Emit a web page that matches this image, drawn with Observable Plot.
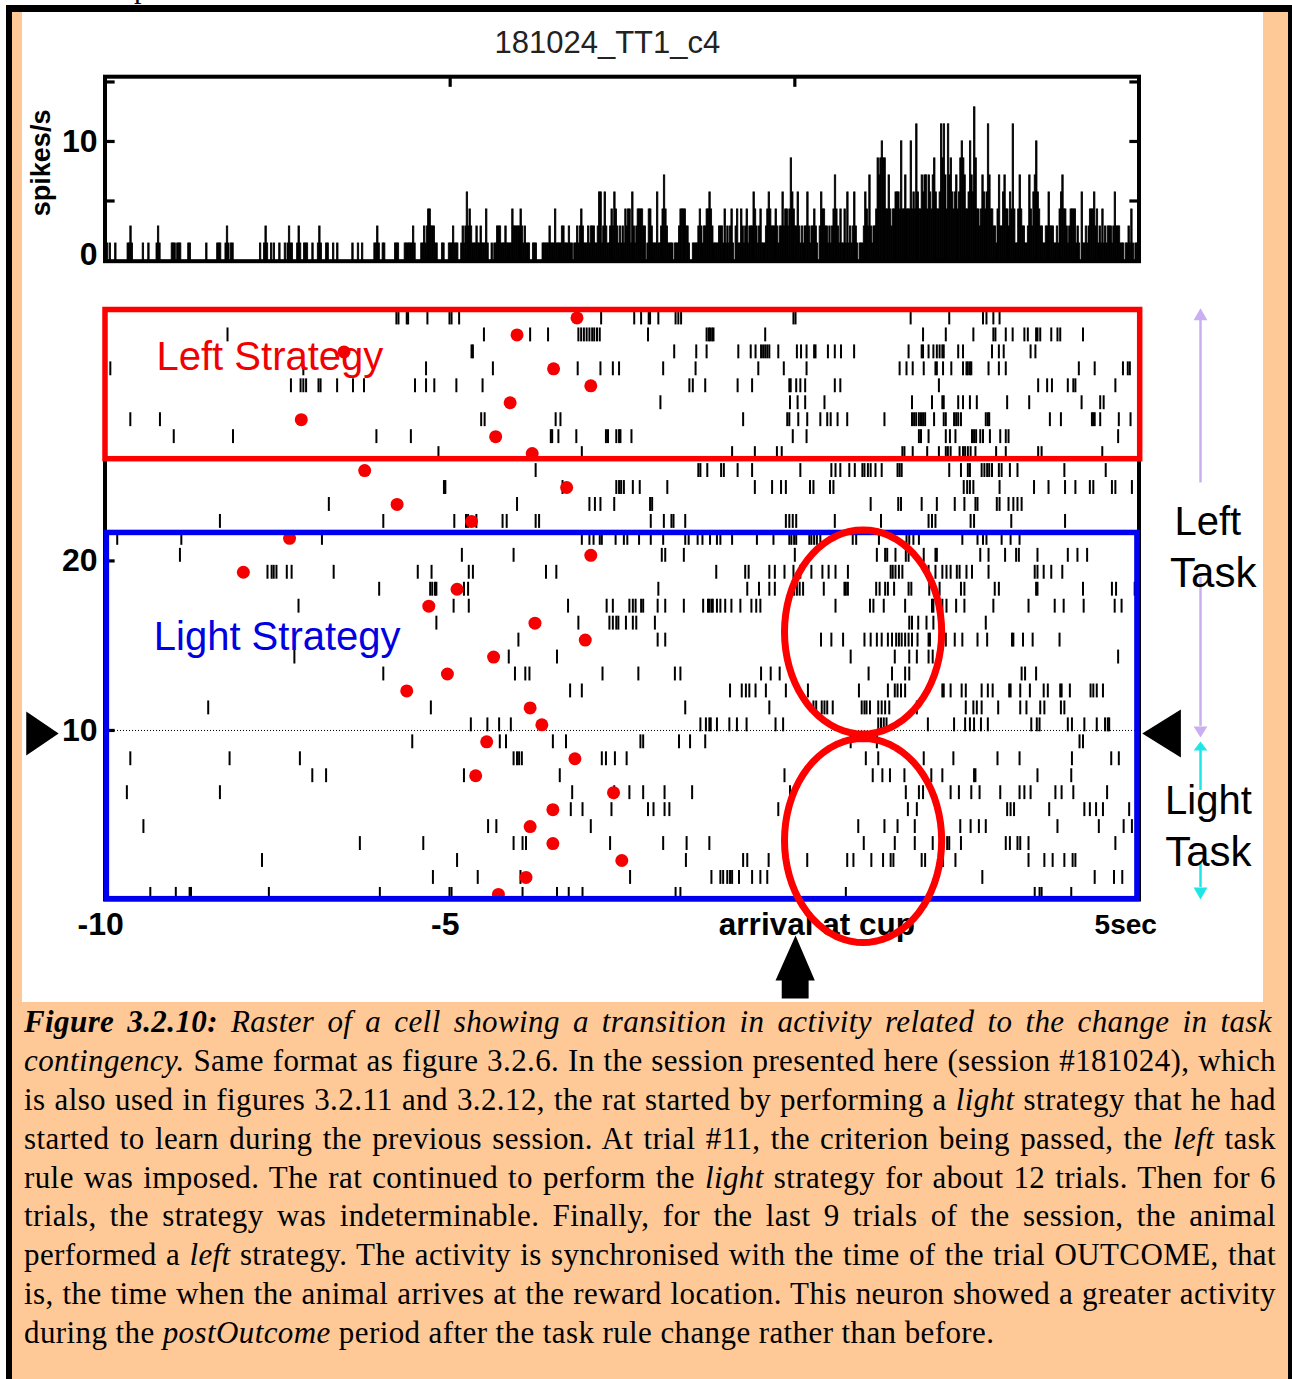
<!DOCTYPE html>
<html><head><meta charset="utf-8">
<script src="https://cdn.jsdelivr.net/npm/d3@7"></script>
<script src="https://cdn.jsdelivr.net/npm/@observablehq/plot@0.6"></script>
<style>
html,body{margin:0;padding:0;background:#fff;width:1292px;height:1379px;overflow:hidden}
#page{position:relative;width:1292px;height:1379px;overflow:hidden}
#sheet{position:absolute;left:6px;top:5px;width:1286px;height:1374px;box-sizing:border-box;background:#fec997;border-left:6px solid #000;border-top:7px solid #000;border-right:4px solid #000}
#panel{position:absolute;left:22px;top:12px;width:1241px;height:990px;background:#fff}
#panel svg{position:absolute;left:0}
#frag{position:absolute;left:134px;top:-27px;font:30px/30px "Liberation Serif";color:#000}
#caption{position:absolute;left:24px;top:1003px;width:1252px;font:31px/38.9px "Liberation Serif";letter-spacing:.4px;color:#000}
#caption div{height:38.9px;text-align:justify;text-align-last:justify}
#caption div.first{width:1248px}
#caption div.last{text-align-last:left}
</style></head><body>
<div id="page">
<div id="frag">p</div>
<div id="sheet"></div>
<div id="panel"></div>
<div id="caption"></div>
</div>
<script>
// Peri-event histogram: spike count per 20 ms bin, from -10 s to +5 s
const binWidth = 0.02, spikesPerSecPerCount = 1.43;
const counts00 = [0,1,0,1,0,0,0,1,0,0,0,0,0,0,0,0,1,1,2,1,0,0,0,0,0];
const counts01 = [0,0,1,0,0,0,1,0,0,0,0,0,1,2,1,0,0,0,0,0,0,0,0,1,1];
const counts02 = [1,0,1,1,1,0,0,0,0,0,1,1,0,0,0,0,0,0,0,0,0,0,0,1,0];
const counts03 = [0,0,0,0,0,0,1,1,1,0,0,0,1,2,1,0,1,1,0,0,0,0,0,0,0];
const counts04 = [0,0,0,0,0,0,0,0,0,0,0,0,1,0,0,1,2,1,0,0,1,0,1,0,0];
const counts05 = [0,1,0,0,0,1,0,1,2,1,1,0,0,0,1,2,1,0,0,1,1,1,0,0,0];
const counts06 = [1,0,0,0,1,2,1,0,0,0,1,1,0,0,0,1,0,0,1,0,0,0,0,0,0];
const counts07 = [0,0,0,0,1,0,0,0,1,0,0,1,0,0,0,0,0,0,0,0,1,1,2,1,0];
const counts08 = [0,1,1,0,0,0,0,0,0,0,1,1,1,0,0,0,0,1,1,1,1,1,1,2,1];
const counts09 = [0,0,0,0,1,1,2,1,2,3,3,2,2,2,1,1,0,0,0,1,1,0,0,0,1];
const counts10 = [1,1,2,1,1,1,0,0,1,2,1,2,4,2,3,2,1,1,1,2,1,1,2,1,1];
const counts11 = [1,3,1,0,0,1,0,1,1,2,2,2,1,1,1,2,1,1,1,1,3,2,2,2,2];
const counts12 = [2,3,2,1,2,1,1,1,0,0,1,1,1,0,0,0,0,1,1,1,1,1,2,1,1];
const counts13 = [1,3,1,1,1,1,2,2,1,1,1,2,1,1,0,1,1,2,1,2,3,2,1,1,1];
const counts14 = [2,1,2,2,2,1,1,2,4,4,1,2,4,2,1,1,2,3,2,4,3,2,1,2,1];
const counts15 = [2,1,3,2,3,3,1,4,2,1,2,3,3,3,3,2,2,0,1,3,3,2,1,1,1];
const counts16 = [4,1,1,2,3,5,3,2,1,1,1,1,0,1,1,1,2,3,3,3,3,2,2,1,0];
const counts17 = [0,1,1,1,1,2,3,2,1,2,2,3,3,4,3,2,1,1,1,1,2,2,2,1,3];
const counts18 = [1,2,1,2,3,1,0,2,3,1,1,3,2,1,2,3,1,2,2,2,4,3,2,1,2];
const counts19 = [3,1,1,1,2,3,4,3,2,2,2,3,2,1,2,2,4,2,3,3,2,3,6,4,3];
const counts20 = [2,2,4,2,1,2,1,2,2,4,2,1,2,2,3,2,1,0,2,4,3,3,2,2,1];
const counts21 = [2,1,2,3,5,3,2,1,3,1,1,3,1,4,1,2,1,2,4,2,1,0,1,1,1];
const counts22 = [2,4,3,2,5,2,1,2,2,3,6,5,6,7,6,6,3,3,5,3,2,3,3,4,4];
const counts23 = [4,3,7,3,3,5,3,3,3,7,3,4,3,8,4,3,3,5,4,5,5,3,5,4,3];
const counts24 = [5,6,4,3,3,4,8,6,8,5,3,8,5,6,4,3,4,5,3,4,6,7,6,5,3];
const counts25 = [3,4,7,5,4,9,6,3,3,2,3,5,4,3,4,8,5,3,3,2,2,1,3,5,2];
const counts26 = [2,4,5,3,3,2,4,3,8,3,1,1,3,5,3,2,2,1,1,2,5,3,2,4,5];
const counts27 = [7,4,3,2,2,1,1,2,2,4,2,2,2,1,1,2,1,3,4,5,3,3,2,1,2];
const counts28 = [3,3,3,3,1,2,1,0,4,1,1,2,1,2,3,3,3,4,2,3,1,2,1,3,1];
const counts29 = [2,1,2,2,2,1,2,4,2,2,2,1,1,1,0,1,1,2,1,3,1,0,1,1,2];
const countBlocks = [counts00,counts01,counts02,counts03,counts04,counts05,counts06,counts07,counts08,counts09,counts10,counts11,counts12,counts13,counts14,counts15,counts16,counts17,counts18,counts19,counts20,counts21,counts22,counts23,counts24,counts25,counts26,counts27,counts28,counts29];

// Raster: spike times (s) per trial, trial 0 at the bottom
const trial34 = [-5.78,-5.75,-5.63,-5.61,-5.33,-5.01,-4.98,-4.87,-2.81,-2.33,-2.23,-2.12,-2.10,-1.98,-1.73,-1.69,-1.65,-0.02,0.01,1.68,2.24,2.73,2.78,2.88,2.97];
const trial33 = [-8.23,-4.51,-3.84,-3.58,-3.14,-3.10,-3.06,-3.02,-2.98,-2.94,-2.91,-2.87,-2.83,-2.13,-1.28,-1.25,-1.23,-1.20,-1.18,-0.43,1.86,2.19,2.59,2.88,2.91,3.06,3.16,3.33,3.38,3.50,3.52,3.56,3.72,3.81,3.85,4.18];
const trial32 = [-4.69,-4.67,-1.75,-1.43,-1.28,-0.82,-0.64,-0.57,-0.49,-0.46,-0.43,-0.40,-0.37,-0.24,0.03,0.09,0.17,0.28,0.30,0.48,0.58,0.67,0.86,1.65,1.84,1.86,1.94,2.01,2.06,2.10,2.14,2.16,2.37,2.44,2.86,2.96,3.03,3.42,3.49];
const trial31 = [-9.93,-7.13,-5.35,-4.38,-3.15,-2.82,-2.64,-2.55,-1.91,-1.44,-0.53,-0.16,0.17,1.52,1.62,1.71,1.87,2.04,2.06,2.15,2.27,2.44,2.49,2.51,2.54,2.56,2.81,2.96,3.06,4.12,4.35,4.76,4.83,4.86];
const trial30 = [-7.31,-7.17,-7.13,-7.09,-6.91,-6.88,-6.64,-6.41,-6.25,-5.51,-5.35,-5.23,-4.91,-4.53,-1.53,-1.48,-1.30,-0.83,-0.62,-0.08,-0.06,0.02,0.08,0.15,0.58,0.66,2.09,3.53,3.66,3.73,3.96,4.04,4.07,4.65];
const trial29 = [-1.95,-0.07,0.04,0.15,0.43,1.70,1.99,2.14,2.16,2.37,2.44,2.54,2.64,3.08,3.40,4.16,4.43,4.48];
const trial28 = [-9.64,-9.21,-4.55,-4.50,-3.47,-3.40,-0.75,-0.11,-0.08,0.05,0.18,0.37,0.47,0.52,0.62,0.76,1.30,1.70,1.73,1.76,1.80,1.83,1.86,1.89,2.02,2.16,2.19,2.31,2.34,2.37,2.41,2.77,2.80,2.82,3.70,3.86,4.31,4.33,4.35,4.43,4.70,4.87];
const trial27 = [-9.01,-8.15,-6.07,-5.57,-3.54,-3.52,-3.43,-3.17,-2.74,-2.71,-2.59,-2.55,-2.53,-2.37,-0.03,0.17,1.80,1.83,1.94,2.19,2.25,2.33,2.57,2.60,2.63,2.69,2.73,2.83,2.98,3.06,3.10,4.69];
const trial26 = [-5.17,-3.09,-0.91,-0.58,-0.26,-0.19,1.56,1.59,1.71,1.92,2.09,2.19,2.22,2.26,2.39,2.44,2.47,2.51,2.55,2.62,2.92,3.06,3.53,3.58,4.46];
const trial25 = [-3.76,-1.40,-1.37,-1.27,-1.07,-1.03,-0.83,-0.62,0.08,0.53,0.59,0.66,0.79,0.87,0.98,1.01,1.06,1.10,1.17,1.26,1.49,1.52,1.55,2.24,2.41,2.51,2.54,2.71,2.75,2.79,2.82,2.86,2.96,3.00,3.12,3.23,3.91,4.51];
const trial24 = [-5.09,-5.07,-3.37,-2.59,-2.55,-2.52,-2.48,-2.35,-2.25,-1.85,-0.58,-0.33,-0.20,-0.13,0.22,0.27,0.51,0.56,2.45,2.50,2.54,2.59,2.97,3.47,3.68,3.92,4.07,4.28,4.33,4.60,4.65,4.89];
const trial23 = [-6.76,-4.03,-2.98,-2.90,-2.82,-2.62,-2.10,-2.07,1.10,1.50,1.54,1.84,2.06,2.32,2.46,2.62,2.65,2.93,2.97,3.10,3.17,3.23,3.29];
const trial22 = [-8.34,-5.97,-4.94,-4.77,-4.74,-4.62,-4.24,-4.18,-3.76,-3.71,-2.09,-1.90,-1.79,-1.76,-1.59,-0.13,-0.08,-0.03,0.02,0.58,1.25,1.94,1.99,2.04,2.55,2.60,3.14,3.92];
const trial21 = [-9.83,-8.90,-6.86,-3.09,-2.98,-2.92,-2.83,-2.80,-2.60,-2.48,-2.43,-2.26,-2.09,-1.91,-1.59,-1.54,-1.41,-1.34,-1.23,-1.13,-1.08,-0.91,-0.55,-0.31,-0.08,-0.05,-0.01,0.02,0.21,0.24,0.28,0.32,0.37,0.84,0.89,1.22,1.62,1.66,1.72,1.80,2.43,2.65,2.73,2.78,3.00,3.13,3.26];
const trial20 = [-8.92,-4.83,-4.08,-1.93,-1.88,-1.61,0.00,1.19,1.31,1.34,1.46,1.61,1.65,1.87,2.04,2.06,2.69,2.81,3.05,3.21,3.25,3.52,3.96,4.10,4.24];
const trial19 = [-7.65,-7.59,-7.56,-7.52,-7.37,-7.30,-6.69,-5.47,-5.27,-4.73,-4.67,-3.61,-3.46,-1.14,-0.72,-0.67,-0.37,-0.29,-0.15,-0.02,0.08,0.24,0.40,0.49,0.59,0.77,1.39,1.42,1.46,1.51,1.56,1.94,2.04,2.14,2.20,2.26,2.35,2.39,2.49,2.57,2.81,3.48,3.52,3.61,3.72,3.88];
const trial18 = [-6.03,-5.29,-5.26,-5.22,-5.20,-4.80,-4.74,-1.98,-0.69,-0.52,-0.37,-0.29,-0.01,0.03,0.07,0.12,0.42,0.72,0.74,0.77,1.18,1.23,1.31,1.35,1.44,1.65,1.69,1.95,2.10,2.41,2.46,2.90,2.96,3.50,3.52,4.18,4.60,4.66,4.93];
const trial17 = [-7.20,-4.95,-4.73,-3.29,-2.73,-2.64,-2.40,-2.35,-2.31,-2.23,-2.20,-1.99,-1.88,-1.61,-1.33,-1.26,-1.24,-1.21,-1.19,-1.13,-1.08,-1.01,-0.92,-0.79,-0.63,-0.56,-0.50,0.59,1.09,1.14,1.29,1.60,1.99,2.01,2.14,2.20,2.34,2.46,2.88,3.39,3.77,3.90,4.19,4.64,4.74];
const trial16 = [-5.20,-3.14,-2.69,-2.64,-2.59,-2.56,-2.45,-2.35,-2.30,-2.03,1.66,1.70,1.79,1.91,2.01,2.77];
const trial15 = [-4.01,-1.99,-1.88,0.38,0.53,0.70,1.01,1.10,1.19,1.26,1.35,1.41,1.47,1.51,1.55,1.60,1.65,1.70,1.78,1.94,1.96,2.19,2.32,2.43,2.65,2.79,3.15,3.17,3.31,3.45,3.84];
const trial14 = [-7.26,-4.15,-3.45,0.81,1.45,1.66,1.77,1.94,2.00,4.69];
const trial13 = [-5.97,-4.06,-3.91,-3.85,-2.79,-2.27,-1.74,-1.66,-0.49,-0.35,-0.22,1.07,1.41,1.60,1.66,3.29,3.34,3.50];
const trial12 = [-3.26,-3.09,-0.94,-0.77,-0.71,-0.66,-0.57,-0.42,-0.13,0.19,0.93,1.35,1.45,1.49,1.54,1.60,2.14,2.16,2.26,2.42,2.48,2.71,2.80,2.87,3.11,3.13,3.27,3.41,3.61,3.67,3.85,3.87,3.99,4.29,4.33,4.38,4.47];
const trial11 = [-8.51,-5.28,-1.59,-0.37,0.27,0.31,0.39,0.43,0.47,0.55,0.97,1.01,1.04,1.09,1.21,1.26,1.31,1.37,1.77,2.48,2.59,2.64,2.71,2.95,3.27,3.36,3.56,3.62,3.86,3.91];
const trial10 = [-4.70,-4.46,-4.29,-4.12,-1.37,-1.29,-1.24,-1.22,-1.13,-0.95,-0.84,-0.70,-0.28,-0.17,1.21,1.25,1.29,1.33,1.93,2.31,2.47,2.54,2.60,2.70,2.80,3.43,3.51,3.55,3.96,4.02,4.20,4.38,4.50,4.54,4.56];
const trial09 = [-5.55,-4.28,-4.19,-3.51,-3.32,-2.24,-2.20,-1.68,-1.52,-1.30,0.81,1.19,4.13,4.18];
const trial08 = [-9.64,-8.20,-7.18,-4.08,-4.03,-4.00,-3.96,-2.80,-2.74,-2.61,-2.44,1.03,1.21,1.87,2.30,2.94,3.26,4.02,4.59,4.70];
const trial07 = [-7.00,-6.80,-4.80,-3.41,-0.15,1.13,1.27,1.38,1.59,1.98,2.14,2.60,2.62,3.52,4.01];
const trial06 = [-9.69,-8.34,-3.23,-2.62,-2.40,-2.20,-1.89,-1.49,-0.07,1.61,1.80,1.86,2.26,2.38,2.56,2.68,2.98,3.26,3.33,3.42,3.78,3.87,4.04,4.53];
const trial05 = [-3.25,-3.08,-2.66,-2.13,-2.05,-1.89,-1.82,-0.24,1.64,1.77,3.08,3.13,3.18,3.69,4.20,4.28,4.37,4.47,4.85];
const trial04 = [-9.45,-4.45,-4.33,-2.96,0.92,1.30,1.49,1.74,2.40,2.55,2.67,2.77,3.81,4.41,4.77,4.89];
const trial03 = [-6.31,-5.39,-4.08,-3.95,-3.90,-2.68,-1.91,-1.57,-1.24,1.00,1.45,1.74,2.00,2.21,2.24,2.41,3.06,3.12,3.23,3.27,3.39,4.65];
const trial02 = [-7.73,-4.90,-1.58,-0.75,-0.69,-0.38,0.18,0.76,0.85,1.11,1.28,1.39,1.43,1.84,1.89,2.15,2.33,3.39,3.62,3.74,3.91,4.03,4.07];
const trial01 = [-5.25,-4.60,-3.98,-2.39,-1.21,-1.08,-1.04,-0.98,-0.94,-0.91,-0.81,-0.62,-0.50,-0.40,2.72,4.35,4.63,4.75];
const trial00 = [-9.35,-8.98,-8.78,-8.76,-7.63,-6.02,-5.01,-4.98,-3.95,-3.45,-3.28,-3.08,-1.73,-1.66,0.74,3.48,3.55,3.58,4.01];
const trials = [trial00,trial01,trial02,trial03,trial04,trial05,trial06,trial07,trial08,trial09,trial10,trial11,trial12,trial13,trial14,trial15,trial16,trial17,trial18,trial19,trial20,trial21,trial22,trial23,trial24,trial25,trial26,trial27,trial28,trial29,trial30,trial31,trial32,trial33,trial34];
// Red dot on each trial: event time (s), trial 0 first
const eventTimes = [-4.30,-3.90,-2.51,-3.51,-3.84,-3.51,-2.63,-4.63,-3.19,-4.47,-3.67,-3.84,-5.63,-5.04,-4.37,-3.04,-3.77,-5.31,-4.90,-8.00,-2.96,-7.33,-4.69,-5.77,-3.31,-6.24,-3.81,-4.34,-7.16,-4.13,-2.96,-3.50,-6.54,-4.03,-3.16];

const histTicksY = [5,10,15], histLabelsY = [0,10], histTicksTop = [-5,0];
const rasterLabelsY = [10,20], xLabelText = ["-10","-5","arrival at cup","5sec"], xLabelAt = [-10.07,-5.07,0.32,4.8], xLabelSize = [32,32,31.5,28];
const boxes = [{name:"Left Strategy",color:"#ff0000",x1:-10,x2:5.01,y1:26,y2:34.8},{name:"Light Strategy",color:"#0000f0",x1:-9.98,x2:4.97,y1:0.05,y2:21.65}];
const boxLabels = [{text:"Left Strategy",color:"#f00000",t:-9.26,v:32.0},{text:"Light Strategy",color:"#0000e0",t:-9.30,v:15.53}];
const taskLabels = [{text:"Left",t:5.99,v:22.27,size:40},{text:"Task",t:6.07,v:19.26,size:42},{text:"Light",t:6.0,v:5.8,size:40},{text:"Task",t:6.0,v:2.8,size:42}];

const hist = countBlocks.flat().map((c,i)=>({x1:-10+i*binWidth,x2:-10+(i+1)*binWidth,rate:c*spikesPerSecPerCount}));
const spikes = trials.flatMap((ts,k)=>ts.map(t=>({t,k})));
const events = eventTimes.map((t,k)=>({t,k}));

// annotation outlines, in the chart's data units
const oval = (cx,cy,rx,ry)=>d3.range(0,73).map(i=>({x:cx+rx*Math.cos(i/36*Math.PI),y:cy+ry*Math.sin(i/36*Math.PI)}));
const poly = pts=>pts.map(([x,y])=>({x,y}));
const shapeMark = (pts,fill)=>Plot.line(poly(pts),{x:"x",y:"y",fill,stroke:"none",curve:"linear-closed"});
const purple="#c9aef2", cyan="#1fe6e6", aX=5.885, aW=0.1;
const sans='"Liberation Sans"';

const histPlot = Plot.plot({
  width:1241,height:270,marginLeft:83,marginRight:124,marginTop:64.7,marginBottom:22,
  style:{background:"transparent",overflow:"visible",top:"0px"},
  x:{domain:[-10,5],axis:null},
  y:{domain:[0,15.4],axis:null},
  marks:[
    Plot.rectY(hist,{x1:"x1",x2:"x2",y1:0,y2:"rate",fill:"#000",stroke:"#000",strokeWidth:0.85}),
    Plot.rect([0],{x1:-10,x2:5,y1:-0.1,y2:15.4,stroke:"#000",strokeWidth:4,fill:"none"}),
    Plot.ruleY(histTicksY,{x1:-10,x2:-9.86,stroke:"#000",strokeWidth:3.2}),
    Plot.ruleY(histTicksY,{x1:5,x2:4.86,stroke:"#000",strokeWidth:3.2}),
    Plot.ruleX(histTicksTop,{y1:15.4,y2:14.55,stroke:"#000",strokeWidth:3.2}),
    Plot.text(histLabelsY,{x:-10,y:d=>d===0?0.45:d,text:d=>String(d),textAnchor:"end",dx:-8,fontSize:32,fontWeight:"bold",fontFamily:sans,fill:"#000"}),
    Plot.text(["spikes/s"],{x:-10,y:8.2,text:d=>d,rotate:-90,dx:-64,fontSize:27,fontWeight:"bold",fontFamily:sans,fill:"#000"}),
    Plot.text(["181024_TT1_c4"],{x:-2.72,y:18.3,text:d=>d,fontSize:31,fontFamily:sans,fill:"#222"})
  ]
});

const rasterPlot = Plot.plot({
  width:1241,height:720,marginLeft:83,marginRight:124,marginTop:27.5,marginBottom:102.5,
  style:{background:"transparent",overflow:"visible",top:"270px"},
  x:{domain:[-10,5],axis:null},
  y:{domain:[0,34.8],axis:null},
  marks:[
    Plot.ruleY([10],{x1:-10,x2:5,stroke:"#000",strokeWidth:1,strokeDasharray:"1,2"}),
    Plot.ruleX(spikes,{x:"t",y1:d=>d.k-0.08,y2:d=>d.k+0.74,stroke:"#000",strokeWidth:2}),
    Plot.dot(events,{x:"t",y:d=>d.k+0.33,r:6.5,fill:"#f50000",stroke:"none"}),
    Plot.rect([0],{x1:-10,x2:5,y1:0,y2:34.8,stroke:"#000",strokeWidth:4,fill:"none"}),
    Plot.ruleY(rasterLabelsY,{x1:-10,x2:-9.86,stroke:"#000",strokeWidth:3.2}),
    Plot.rect(boxes,{x1:"x1",x2:"x2",y1:"y1",y2:"y2",stroke:"color",strokeWidth:5.5,fill:"none"}),
    Plot.text(boxLabels,{x:"t",y:"v",text:"text",fill:"color",textAnchor:"start",fontSize:40,fontFamily:sans}),
    Plot.text(rasterLabelsY,{x:-10,y:d=>d,text:d=>String(d),textAnchor:"end",dx:-8,fontSize:32,fontWeight:"bold",fontFamily:sans,fill:"#000"}),
    Plot.text(xLabelAt,{x:d=>d,y:-1.45,text:(d,i)=>xLabelText[i],fontSize:(d,i)=>xLabelSize[i],fontWeight:"bold",fontFamily:sans,fill:"#000"}),
    Plot.line(oval(0.99,15.81,1.14,6.02),{x:"x",y:"y",stroke:"#ff0000",strokeWidth:7}),
    Plot.line(oval(0.99,3.51,1.14,6.02),{x:"x",y:"y",stroke:"#ff0000",strokeWidth:7}),
    shapeMark([[-10.68,9.82],[-11.15,11.12],[-11.15,8.53]],"#000"),
    shapeMark([[5.04,9.82],[5.60,11.24],[5.60,8.41]],"#000"),
    shapeMark([[0.01,-2.09],[0.29,-4.75],[0.20,-4.75],[0.20,-5.81],[-0.19,-5.81],[-0.19,-4.75],[-0.28,-4.75]],"#000"),
    Plot.ruleX([aX],{y1:24.6,y2:34.19,stroke:purple,strokeWidth:2.5}),
    Plot.ruleX([aX],{y1:10.24,y2:19.03,stroke:purple,strokeWidth:2.5}),
    shapeMark([[aX,34.9],[aX+aW,34.19],[aX-aW,34.19]],purple),
    shapeMark([[aX,9.59],[aX+aW,10.24],[aX-aW,10.24]],purple),
    Plot.ruleX([aX],{y1:6.46,y2:8.82,stroke:cyan,strokeWidth:2.5}),
    Plot.ruleX([aX],{y1:0.74,y2:2.27,stroke:cyan,strokeWidth:2.5}),
    shapeMark([[aX,9.35],[aX+aW,8.82],[aX-aW,8.82]],cyan),
    shapeMark([[aX,0.03],[aX+aW,0.74],[aX-aW,0.74]],cyan),
    Plot.text(taskLabels,{x:"t",y:"v",text:"text",fontSize:"size",fontFamily:sans,fill:"#000"})
  ]
});
document.getElementById("panel").append(histPlot,rasterPlot);

const captionLines = [
 '<b><i>Figure 3.2.10:</i></b> <i>Raster of a cell showing a transition in activity related to the change in task</i>',
 '<i>contingency.</i> Same format as figure 3.2.6. In the session presented here (session #181024), which',
 'is also used in figures 3.2.11 and 3.2.12, the rat started by performing a <i>light</i> strategy that he had',
 'started to learn during the previous session. At trial #11, the criterion being passed, the <i>left</i> task',
 'rule was imposed. The rat continued to perform the <i>light</i> strategy for about 12 trials. Then for 6',
 'trials, the strategy was indeterminable. Finally, for the last 9 trials of the session, the animal',
 'performed a <i>left</i> strategy. The activity is synchronised with the time of the trial OUTCOME, that',
 'is, the time when the animal arrives at the reward location. This neuron showed a greater activity',
 'during the <i>postOutcome</i> period after the task rule change rather than before.'
];
document.getElementById("caption").innerHTML = captionLines.map((l,i)=>`<div class="${i===8?'last':i===0?'first':''}">${l}</div>`).join("");
</script>
</body></html>
